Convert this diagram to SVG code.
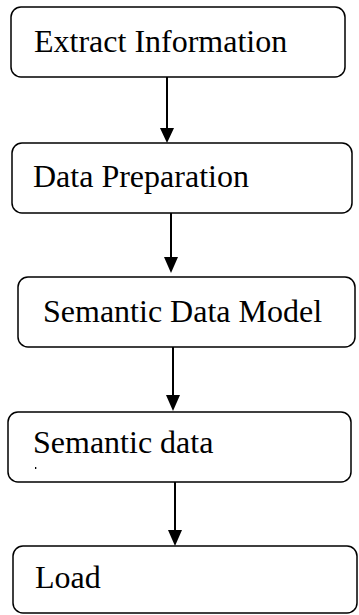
<svg xmlns="http://www.w3.org/2000/svg" width="359" height="615" viewBox="0 0 359 615">
<defs>
<style>
.box{fill:#fff;stroke:#000;stroke-width:1.5}
.lbl{font-family:"Liberation Serif","Times New Roman",serif;font-size:32px;fill:#000}
.conn{stroke:#000;stroke-width:2;fill:none}
.head{fill:#000}
</style>
</defs>
<rect width="359" height="615" fill="#fff"/>
<g id="connectors">
<line class="conn" x1="167" y1="77" x2="167" y2="130"/>
<polygon class="head" points="160,128 174,128 167,143"/>
<line class="conn" x1="171" y1="212" x2="171" y2="259"/>
<polygon class="head" points="164,257 178,257 171,273"/>
<line class="conn" x1="173" y1="347" x2="173" y2="397"/>
<polygon class="head" points="166,395 180,395 173,411"/>
<line class="conn" x1="175" y1="482" x2="175" y2="532"/>
<polygon class="head" points="168,530 182,530 175,546"/>
</g>
<g id="n1">
<rect class="box" x="11" y="7" width="334" height="70" rx="10"/>
<text class="lbl" x="34" y="52">Extract Information</text>
</g>
<g id="n2">
<rect class="box" x="12" y="143" width="340" height="70" rx="10"/>
<text class="lbl" x="33" y="187">Data Preparation</text>
</g>
<g id="n3">
<rect class="box" x="18" y="277" width="337" height="70" rx="10"/>
<text class="lbl" x="43" y="322">Semantic Data Model</text>
</g>
<g id="n4">
<rect class="box" x="8" y="412" width="343" height="70" rx="10"/>
<text class="lbl" x="33" y="453">Semantic data</text>
<rect x="35" y="467" width="1.3" height="2" fill="#000"/>
</g>
<g id="n5">
<rect class="box" x="13" y="546" width="344" height="67" rx="10"/>
<text class="lbl" x="35" y="588">Load</text>
</g>
</svg>
